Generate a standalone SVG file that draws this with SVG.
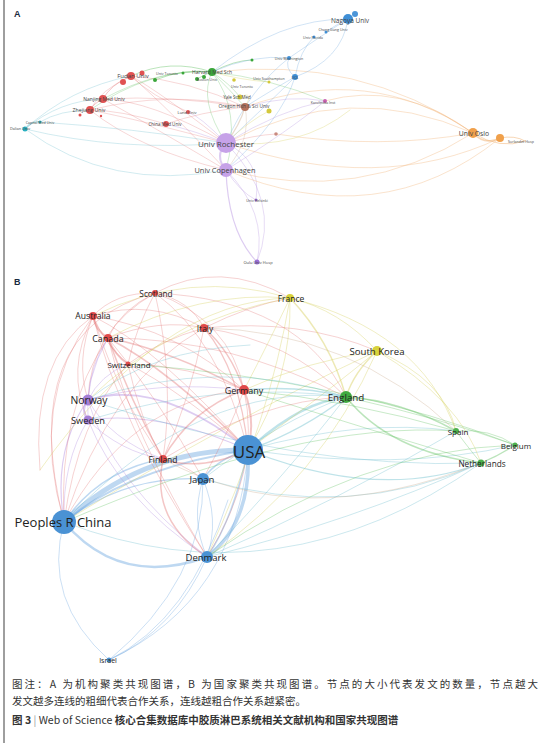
<svg xmlns="http://www.w3.org/2000/svg" width="544" height="743" viewBox="0 0 544 743">
<style>
.e path{fill:none;stroke-linecap:round}
.r{stroke:#e06a6a;stroke-opacity:.38}
.p{stroke:#b38ee0;stroke-opacity:.45}
.b{stroke:#6fa9e0;stroke-opacity:.45}
.g{stroke:#5cbf5c;stroke-opacity:.42}
.y{stroke:#d6cf5a;stroke-opacity:.45}
.t{stroke:#5fb8c8;stroke-opacity:.4}
.o{stroke:#f0b070;stroke-opacity:.5}
.n{stroke:#c9a98a;stroke-opacity:.42}
.lb{font-family:"Open Sans","Liberation Sans",sans-serif;fill:#222;text-anchor:middle;dominant-baseline:central}
.la{font-family:"Open Sans","Liberation Sans",sans-serif;fill:#444;text-anchor:middle;dominant-baseline:central}
.cap{font-family:"Noto Sans CJK SC","Noto Sans",sans-serif;fill:#333;font-size:10.5px}
.hd{font-family:"Liberation Sans",Arial,sans-serif;font-weight:bold;font-size:9px;fill:#1a2a40}
</style>
<rect width="544" height="743" fill="#fff"/>
<line x1="4" y1="0" x2="4" y2="743" stroke="#6a6a6a" stroke-width="1.3"/>
<text class="hd" x="14" y="17">A</text>
<text class="hd" x="14" y="285">B</text>

<!-- Panel A connectors -->
<g id="connectors-a" class="e" stroke-width="0.7">
<path class="p" d="M226,143 Q214,156 226,170" stroke-width="2"/>
<path class="p" d="M226,143 Q282,200 257,262"/>
<path class="p" d="M226,170 Q228,232 257,262" stroke-width="1.2"/>
<path class="p" d="M226,170 Q268,212 257,262"/>
<path class="p" d="M226,143 Q262,160 256,200"/>
<path class="p" d="M226,170 Q240,192 256,200"/>
<path class="p" d="M226,143 Q192,130 166,124"/>
<path class="p" d="M226,143 Q200,116 188,112"/>
<path class="o" d="M226,143 Q350,78 473,133"/>
<path class="o" d="M226,170 Q360,205 473,133"/>
<path class="o" d="M226,143 Q380,195 500,138"/>
<path class="o" d="M226,170 Q380,235 500,138"/>
<path class="o" d="M473,133 Q485,146 500,138" stroke-width="1.6"/>
<path class="o" d="M473,133 Q500,150 525,141" stroke-width="1"/>
<path class="o" d="M500,138 Q515,135 525,141" stroke-width="1"/>
<path class="o" d="M325,101 Q400,80 473,133"/>
<path class="o" d="M245,107 Q370,62 473,133"/>
<path class="o" d="M212,72 Q360,55 473,133"/>
<path class="o" d="M276,134 Q380,150 473,133"/>
<path class="r" d="M226,143 Q160,92 131,76"/>
<path class="r" d="M226,143 Q150,100 103,99"/>
<path class="r" d="M226,143 Q140,120 90,110"/>
<path class="r" d="M226,170 Q140,150 90,110"/>
<path class="r" d="M226,170 Q150,125 103,99"/>
<path class="r" d="M226,170 Q170,110 131,76"/>
<path class="r" d="M131,76 Q110,85 103,99" stroke-width="1"/>
<path class="r" d="M103,99 Q94,103 90,110" stroke-width="1"/>
<path class="r" d="M131,76 Q100,90 90,110"/>
<path class="r" d="M245,107 Q200,112 166,124"/>
<path class="r" d="M131,76 Q190,80 245,107"/>
<path class="r" d="M90,110 Q170,90 245,107"/>
<path class="r" d="M103,99 Q170,95 245,107"/>
<path class="r" d="M166,124 Q120,110 90,110"/>
<path class="r" d="M188,112 Q150,95 131,76"/>
<path class="r" d="M226,143 Q255,135 276,134"/>
<path class="g" d="M226,143 Q198,100 212,72"/>
<path class="g" d="M226,170 Q242,110 212,72"/>
<path class="g" d="M131,76 Q170,58 212,72" stroke-width="1"/>
<path class="g" d="M90,110 Q150,68 212,72"/>
<path class="g" d="M103,99 Q160,68 212,72"/>
<path class="g" d="M212,72 Q230,90 245,107"/>
<path class="g" d="M212,72 Q230,84 240,97"/>
<path class="g" d="M212,72 Q270,78 325,101"/>
<path class="g" d="M155,80 Q185,68 212,72" stroke-width="1"/>
<path class="g" d="M212,72 Q235,60 252,60" stroke-width="1"/>
<path class="g" d="M197,79 Q205,74 212,72" stroke-width="1"/>
<path class="b" d="M226,143 Q272,100 295,77"/>
<path class="b" d="M226,170 Q282,120 295,77"/>
<path class="b" d="M226,143 Q250,88 289,58"/>
<path class="b" d="M295,77 Q342,60 348,19"/>
<path class="b" d="M289,58 Q330,30 348,19"/>
<path class="b" d="M295,77 Q284,68 289,58"/>
<path class="b" d="M212,72 Q280,18 348,19"/>
<path class="b" d="M212,72 Q252,54 289,58"/>
<path class="b" d="M326,32 Q340,22 348,19"/>
<path class="b" d="M314,37 Q300,50 295,77"/>
<path class="b" d="M245,107 Q280,85 295,77"/>
<path class="t" d="M226,143 Q120,152 25,129"/>
<path class="t" d="M226,170 Q110,192 25,129"/>
<path class="t" d="M226,143 Q130,128 40,122"/>
<path class="t" d="M90,110 Q60,110 40,122"/>
<path class="t" d="M25,129 Q30,121 40,122" stroke-width="1.2"/>
<path class="t" d="M25,129 Q70,88 131,76"/>
<path class="t" d="M25,129 Q60,100 103,99"/>
<path class="y" d="M245,107 Q255,90 240,97"/>
<path class="y" d="M226,143 Q250,120 269,111"/>
<path class="y" d="M212,72 Q240,80 269,82"/>
<path class="y" d="M226,143 Q300,150 350,110"/>
<path class="p" d="M245,107 Q290,94 325,101" stroke="#d58ac0"/>
<path class="p" d="M226,143 Q280,110 325,101" stroke="#d58ac0"/>
<path class="p" d="M226,170 Q290,130 325,101" stroke="#d58ac0"/>
<path class="n" d="M226,143 Q240,125 245,107" stroke-width="1.2"/>
<path class="n" d="M226,170 Q252,140 245,107"/>
</g>

<!-- Panel A nodes -->
<g id="a-nagoya"><circle cx="355" cy="14" r="3" fill="#4b95d8"/><circle cx="348" cy="19" r="5" fill="#3f8fd6"/><text class="la" x="350" y="20" font-size="6.5">Nagoya Univ</text></g>
<g id="a-changgung"><circle cx="326" cy="32" r="1.5" fill="#3f8fd6"/><text class="la" x="333" y="29" font-size="3.6">Chang Gung Univ</text></g>
<g id="a-florida"><circle cx="314" cy="37" r="1.5" fill="#3f8fd6"/><text class="la" x="313" y="37" font-size="3.6">Univ Florida</text></g>
<g id="a-washington"><circle cx="289" cy="58" r="2" fill="#3f8fd6"/><text class="la" x="289" y="58" font-size="3.6">Univ Washington</text></g>
<g id="a-ucl"><circle cx="295" cy="77" r="3" fill="#3f8fd6"/><text class="la" x="295" y="77" font-size="3.6">UCL</text></g>
<g id="a-southampton"><circle cx="269" cy="82" r="1.5" fill="#d4c83a"/><text class="la" x="269" y="78" font-size="3.6">Univ Southampton</text></g>
<g id="a-harvard"><circle cx="212" cy="72" r="4" fill="#3aa63a"/><text class="la" x="212" y="72" font-size="5">Harvard Med Sch</text></g>
<g id="a-boston"><circle cx="197" cy="79" r="2" fill="#3aa63a"/><circle cx="204" cy="77" r="2" fill="#3aa63a"/><text class="la" x="207" y="79" font-size="3.6">Boston Univ</text></g>
<g id="a-green2"><circle cx="155" cy="80" r="2" fill="#3aa63a"/><circle cx="252" cy="60" r="1.5" fill="#3aa63a"/><circle cx="183" cy="73" r="1.5" fill="#3aa63a"/><text class="la" x="167" y="73" font-size="3.6">Univ Toronto</text></g>
<g id="a-toronto"><circle cx="234" cy="80" r="1.8" fill="#d4c83a"/><text class="la" x="242" y="86" font-size="3.6">Univ Toronto</text></g>
<g id="a-yale"><circle cx="240" cy="97" r="2.5" fill="#d4c83a"/><text class="la" x="237" y="97" font-size="4.5">Yale Sch Med</text></g>
<g id="a-oregon"><circle cx="245" cy="107" r="4" fill="#b5735d"/><text class="la" x="244" y="106" font-size="4.8">Oregon Hlth &amp; Sci Univ</text></g>
<g id="a-yel2"><circle cx="269" cy="111" r="2.5" fill="#d4c83a"/></g>
<g id="a-karolinska"><circle cx="325" cy="101" r="2" fill="#c960b0"/><text class="la" x="323" y="102" font-size="3.6">Karolinska Inst</text></g>
<g id="a-fudan"><circle cx="142" cy="73" r="2.5" fill="#e05252"/><circle cx="123" cy="82" r="3" fill="#e05252"/><circle cx="131" cy="76" r="4" fill="#e05252"/><text class="la" x="133" y="76" font-size="6">Fudan Univ</text></g>
<g id="a-nanjing"><circle cx="103" cy="99" r="4" fill="#e05252"/><text class="la" x="104" y="99" font-size="5">Nanjing Med Univ</text></g>
<g id="a-zhejiang"><circle cx="80" cy="115" r="1.5" fill="#e05252"/><circle cx="101" cy="116" r="1.2" fill="#e05252"/><circle cx="90" cy="110" r="4" fill="#e05252"/><text class="la" x="89" y="110" font-size="5.2">Zhejiang Univ</text></g>
<g id="a-capital"><circle cx="40" cy="122" r="1.5" fill="#2ab0c0"/><text class="la" x="40" y="122" font-size="3.6">Capital Med Univ</text></g>
<g id="a-dalian"><circle cx="25" cy="129" r="2.5" fill="#2ab0c0"/><text class="la" x="20" y="128" font-size="3.8">Dalian Univ</text></g>
<g id="a-lund"><circle cx="188" cy="112" r="2" fill="#e05252"/><text class="la" x="187" y="112" font-size="4">Lund Univ</text></g>
<g id="a-chinamed"><circle cx="166" cy="124" r="3" fill="#e05252"/><text class="la" x="165" y="124" font-size="4.5">China Med Univ</text></g>
<g id="a-red3"><circle cx="276" cy="134" r="1.8" fill="#c98a80"/></g>
<g id="a-rochester"><circle cx="226" cy="143" r="10" fill="#c6a2e8"/><text class="la" x="226" y="143" font-size="8">Univ Rochester</text></g>
<g id="a-copenhagen"><circle cx="226" cy="170" r="7" fill="#c6a2e8"/><text class="la" x="225" y="170" font-size="7.4">Univ Copenhagen</text></g>
<g id="a-helsinki"><circle cx="256" cy="200" r="1.5" fill="#9b6fd6"/><text class="la" x="257" y="200" font-size="3.6">Univ Helsinki</text></g>
<g id="a-oulu"><circle cx="257" cy="262" r="2.5" fill="#9b6fd6"/><text class="la" x="258" y="262" font-size="4">Oulu Univ Hosp</text></g>
<g id="a-oslo"><circle cx="473" cy="133" r="5" fill="#f0a04b"/><text class="la" x="474" y="133" font-size="6.8">Univ Oslo</text></g>
<g id="a-sorlandet"><circle cx="500" cy="138" r="4" fill="#f0a04b"/><text class="la" x="521" y="141" font-size="3.6">Sorlandet Hosp</text></g>

<!-- Panel B connectors -->
<g id="connectors-b" class="e" stroke-width="0.8">
<path class="b" d="M64,522 Q142,449 248,450" stroke-width="5"/>
<path class="b" d="M64,522 Q128,468 248,450" stroke-width="2"/>
<path class="b" d="M64,522 Q120,588 207,557" stroke-width="2.5"/>
<path class="b" d="M248,450 Q252,522 207,557" stroke-width="3.5"/>
<path class="b" d="M248,450 Q232,522 207,557" stroke-width="1.5"/>
<path class="b" d="M64,522 Q125,475 203,479" stroke-width="1.2"/>
<path class="b" d="M248,450 Q218,458 203,479" stroke-width="1.6"/>
<path class="b" d="M203,479 Q220,520 207,557"/>
<path class="b" d="M203,479 Q190,520 207,557"/>
<path class="b" d="M109,660 Q42,600 64,522"/>
<path class="b" d="M109,660 Q175,630 207,557"/>
<path class="b" d="M109,660 Q237,600 248,450"/>
<path class="b" d="M109,660 Q205,580 203,479"/>
<path class="b" d="M109,660 Q190,620 228,500"/>
<path class="b" d="M64,522 Q100,470 163,459" stroke-width="1.5"/>
<path class="p" d="M64,522 Q52,450 88,400" stroke-width="1.2"/>
<path class="p" d="M64,522 Q62,462 88,420"/>
<path class="r" d="M64,522 Q28,400 93,316"/>
<path class="r" d="M64,522 Q58,410 108,338"/>
<path class="r" d="M64,522 Q15,330 155,293"/>
<path class="t" d="M64,522 Q200,380 346,397"/>
<path class="r" d="M64,522 Q130,400 244,390"/>
<path class="r" d="M64,522 Q110,380 204,328"/>
<path class="r" d="M64,522 Q78,420 128,364"/>
<path class="t" d="M64,522 Q280,605 481,463"/>
<path class="y" d="M64,522 Q230,420 377,351"/>
<path class="t" d="M207,557 Q350,522 481,463"/>
<path class="t" d="M207,557 Q290,470 346,397"/>
<path class="t" d="M207,557 Q340,500 456,431"/>
<path class="r" d="M207,557 Q150,520 163,459" stroke-width="1.5"/>
<path class="p" d="M207,557 Q110,480 88,400"/>
<path class="p" d="M207,557 Q120,500 88,420"/>
<path class="r" d="M207,557 Q262,470 244,390"/>
<path class="r" d="M207,557 Q130,430 108,338"/>
<path class="r" d="M207,557 Q118,420 93,316"/>
<path class="y" d="M207,557 Q320,480 377,351"/>
<path class="y" d="M207,557 Q270,420 290,298"/>
<path class="t" d="M248,450 Q300,402 346,397" stroke-width="2.5"/>
<path class="t" d="M248,450 Q300,432 346,397" stroke-width="1.5"/>
<path class="r" d="M248,450 Q256,420 244,390" stroke-width="2"/>
<path class="p" d="M248,450 Q160,378 88,400" stroke-width="1.6"/>
<path class="p" d="M248,450 Q160,410 88,420" stroke-width="1.2"/>
<path class="r" d="M248,450 Q200,472 163,459" stroke-width="1.5"/>
<path class="t" d="M248,450 Q380,502 481,463" stroke-width="1.2"/>
<path class="t" d="M248,450 Q360,418 456,431"/>
<path class="t" d="M248,450 Q400,472 515,445"/>
<path class="y" d="M248,450 Q330,390 377,351"/>
<path class="y" d="M248,450 Q292,380 290,298"/>
<path class="r" d="M248,450 Q240,370 204,328" stroke-width="1.2"/>
<path class="r" d="M248,450 Q170,370 108,338" stroke-width="1.5"/>
<path class="r" d="M248,450 Q160,350 93,316"/>
<path class="r" d="M248,450 Q220,340 155,293"/>
<path class="r" d="M248,450 Q180,390 128,364"/>
<path class="t" d="M203,479 Q280,420 346,397"/>
<path class="r" d="M203,479 Q230,430 244,390"/>
<path class="r" d="M203,479 Q180,462 163,459"/>
<path class="t" d="M203,479 Q350,522 481,463"/>
<path class="r" d="M108,338 Q160,400 203,479"/>
<path class="n" d="M163,459 Q300,535 481,463"/>
<path class="r" d="M155,293 Q115,292 93,316"/>
<path class="r" d="M155,293 Q190,300 204,328"/>
<path class="r" d="M155,293 Q120,310 108,338"/>
<path class="r" d="M155,293 Q135,330 128,364"/>
<path class="r" d="M155,293 Q230,320 244,390"/>
<path class="r" d="M155,293 Q175,380 163,459"/>
<path class="r" d="M155,293 Q90,330 88,400"/>
<path class="r" d="M155,293 Q220,258 290,298"/>
<path class="r" d="M155,293 Q300,300 346,397"/>
<path class="r" d="M93,316 Q95,330 108,338" stroke-width="2"/>
<path class="r" d="M93,316 Q150,298 204,328"/>
<path class="r" d="M93,316 Q105,345 128,364"/>
<path class="r" d="M93,316 Q180,330 244,390"/>
<path class="r" d="M93,316 Q120,400 163,459"/>
<path class="r" d="M93,316 Q75,360 88,400"/>
<path class="r" d="M93,316 Q65,370 88,420"/>
<path class="r" d="M93,316 Q30,360 40,470"/>
<path class="r" d="M108,338 Q160,318 204,328"/>
<path class="r" d="M108,338 Q115,356 128,364" stroke-width="2"/>
<path class="r" d="M108,338 Q170,350 244,390" stroke-width="1.5"/>
<path class="r" d="M108,338 Q130,400 163,459" stroke-width="1.5"/>
<path class="p" d="M108,338 Q90,365 88,400"/>
<path class="p" d="M108,338 Q84,380 88,420"/>
<path class="r" d="M108,338 Q230,338 346,397"/>
<path class="r" d="M204,328 Q230,350 244,390" stroke-width="1.5"/>
<path class="r" d="M204,328 Q190,400 163,459"/>
<path class="r" d="M204,328 Q160,340 128,364"/>
<path class="r" d="M204,328 Q250,305 290,298"/>
<path class="r" d="M204,328 Q290,340 346,397"/>
<path class="r" d="M204,328 Q300,318 377,351"/>
<path class="n" d="M204,328 Q350,330 456,431"/>
<path class="r" d="M128,364 Q190,365 244,390"/>
<path class="r" d="M128,364 Q140,420 163,459"/>
<path class="p" d="M128,364 Q100,375 88,400"/>
<path class="g" d="M128,364 Q350,380 515,445"/>
<path class="r" d="M244,390 Q190,410 163,459" stroke-width="1.5"/>
<path class="t" d="M244,390 Q300,385 346,397" stroke-width="1.5"/>
<path class="y" d="M244,390 Q270,340 290,298"/>
<path class="y" d="M244,390 Q310,360 377,351"/>
<path class="p" d="M244,390 Q160,380 88,400"/>
<path class="g" d="M244,390 Q350,400 456,431"/>
<path class="g" d="M244,390 Q370,430 481,463"/>
<path class="p" d="M163,459 Q110,440 88,400"/>
<path class="p" d="M163,459 Q120,452 88,420"/>
<path class="r" d="M163,459 Q260,400 346,397"/>
<path class="p" d="M88,400 Q80,410 88,420" stroke-width="2"/>
<path class="t" d="M88,400 Q220,355 346,397"/>
<path class="t" d="M88,420 Q220,380 346,397"/>
<path class="t" d="M88,400 Q300,470 481,463"/>
<path class="t" d="M88,400 Q150,350 250,345"/>
<path class="y" d="M290,298 Q340,310 377,351"/>
<path class="y" d="M290,298 Q330,340 346,397" stroke-width="1.5"/>
<path class="y" d="M290,298 Q420,330 456,431"/>
<path class="y" d="M290,298 Q190,268 93,316"/>
<path class="y" d="M290,298 Q200,290 108,338"/>
<path class="y" d="M290,298 Q170,320 88,400"/>
<path class="y" d="M290,298 Q160,300 40,470"/>
<path class="y" d="M377,351 Q354,372 346,397" stroke-width="1.5"/>
<path class="y" d="M377,351 Q445,380 456,431"/>
<path class="y" d="M377,351 Q460,400 481,463"/>
<path class="g" d="M346,397 Q400,400 456,431" stroke-width="1.5"/>
<path class="g" d="M346,397 Q390,452 481,463" stroke-width="1.5"/>
<path class="g" d="M346,397 Q440,418 515,445"/>
<path class="g" d="M456,431 Q470,450 481,463"/>
<path class="g" d="M456,431 Q490,428 515,445"/>
<path class="g" d="M481,463 Q500,455 515,445" stroke-width="1.2"/>
<path class="g" d="M64,522 Q300,420 456,431"/>
<path class="g" d="M207,557 Q360,450 515,445"/>
</g>

<!-- Panel B nodes -->
<g id="b-scotland"><circle cx="155" cy="293" r="3" fill="#e04a4a"/><text class="lb" x="156" y="293" font-size="8.3">Scotland</text></g>
<g id="b-australia"><circle cx="93" cy="316" r="4" fill="#e04a4a"/><text class="lb" x="93" y="316" font-size="8.6">Australia</text></g>
<g id="b-italy"><circle cx="204" cy="328" r="4" fill="#e04a4a"/><text class="lb" x="205" y="328" font-size="8.5">Italy</text></g>
<g id="b-canada"><circle cx="108" cy="338" r="4" fill="#e04a4a"/><text class="lb" x="108" y="338" font-size="9">Canada</text></g>
<g id="b-switzerland"><circle cx="128" cy="364" r="2.5" fill="#e04a4a"/><text class="lb" x="129" y="364" font-size="8">Switzerland</text></g>
<g id="b-germany"><circle cx="244" cy="390" r="5" fill="#e04a4a"/><text class="lb" x="244" y="390" font-size="9">Germany</text></g>
<g id="b-norway"><circle cx="88" cy="400" r="5.5" fill="#a57fd6"/><text class="lb" x="89" y="400" font-size="10.3">Norway</text></g>
<g id="b-sweden"><circle cx="88" cy="420" r="4.5" fill="#a57fd6"/><text class="lb" x="88" y="420" font-size="9.3">Sweden</text></g>
<g id="b-finland"><circle cx="163" cy="459" r="4" fill="#e04a4a"/><text class="lb" x="163" y="459" font-size="8.5">Finland</text></g>
<g id="b-usa"><circle cx="248" cy="450" r="15" fill="#4a92d4"/><text class="lb" x="249" y="451" font-size="17">USA</text></g>
<g id="b-france"><circle cx="290" cy="298" r="4" fill="#d8d23c"/><text class="lb" x="291" y="298" font-size="8.5">France</text></g>
<g id="b-southkorea"><circle cx="377" cy="351" r="5" fill="#d8d23c"/><text class="lb" x="377" y="351" font-size="9.6">South Korea</text></g>
<g id="b-england"><circle cx="346" cy="397" r="6" fill="#3faa3f"/><text class="lb" x="346" y="397" font-size="9.8">England</text></g>
<g id="b-spain"><circle cx="456" cy="431" r="3" fill="#4cb04c"/><text class="lb" x="458" y="431" font-size="8">Spain</text></g>
<g id="b-belgium"><circle cx="515" cy="445" r="2.5" fill="#4cb04c"/><text class="lb" x="516" y="445" font-size="8">Belgium</text></g>
<g id="b-netherlands"><circle cx="481" cy="463" r="3.5" fill="#4cb04c"/><text class="lb" x="482" y="463" font-size="8.2">Netherlands</text></g>
<g id="b-japan"><circle cx="203" cy="479" r="6" fill="#4a92d4"/><text class="lb" x="202" y="479" font-size="9.6">Japan</text></g>
<g id="b-china"><circle cx="64" cy="522" r="12" fill="#4a92d4"/><text class="lb" x="63" y="522" font-size="13">Peoples R China</text></g>
<g id="b-denmark"><circle cx="207" cy="557" r="6" fill="#4a92d4"/><text class="lb" x="206" y="557" font-size="9.5">Denmark</text></g>
<g id="b-israel"><circle cx="109" cy="660" r="2.5" fill="#4a92d4"/><text class="lb" x="108" y="660" font-size="7">Israel</text></g>

<!-- Caption -->
<text class="cap" x="12" y="688" textLength="526" lengthAdjust="spacing">图注：A 为机构聚类共现图谱，B 为国家聚类共现图谱。节点的大小代表发文的数量，节点越大</text>
<text class="cap" x="12" y="705">发文越多连线的粗细代表合作关系，连线越粗合作关系越紧密。</text>
<text class="cap" x="12" y="724" fill="#222" font-size="11.5"><tspan font-weight="bold">图 3</tspan> <tspan fill="#999">|</tspan> Web of Science <tspan font-weight="bold">核心合集数据库中胶质淋巴系统相关文献机构和国家共现图谱</tspan></text>
</svg>
